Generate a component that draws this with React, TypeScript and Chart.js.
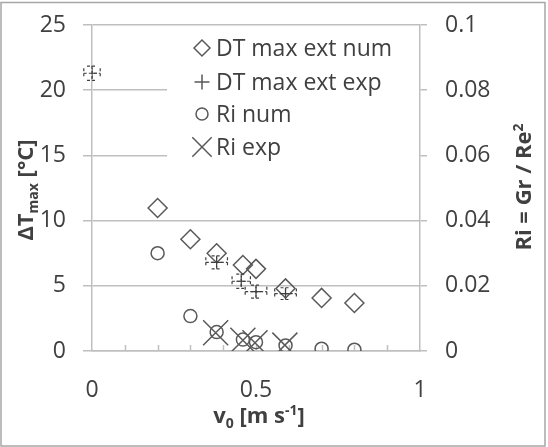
import React, { useEffect, useRef } from 'react';
import { Chart, registerables } from 'chart.js';

Chart.register(...registerables);

// ---- data ----
const vNum = [0.2, 0.3, 0.38, 0.46, 0.5, 0.59, 0.7, 0.8];
const dtNum = [10.97, 8.57, 7.5, 6.6, 6.3, 4.8, 4.07, 3.68];
const riNum = [0.03, 0.0107, 0.0058, 0.0035, 0.0027, 0.0017, 0.0007, 0.0004];

const vExp = [0.0, 0.38, 0.455, 0.5, 0.59];
const dtExp = [21.3, 6.8, 5.35, 4.55, 4.4];
const vErrExp = [0.025, 0.033, 0.028, 0.033, 0.033];
const dtErrExp = [0.55, 0.5, 0.55, 0.5, 0.45];

const vRiExp = [0.377, 0.46, 0.497, 0.588];
const riExp = [0.0056, 0.0033, 0.0025, 0.0018];

const legendLabels = ['DT max ext num', 'DT max ext exp', 'Ri num', 'Ri exp'];
const xMinorTicks = [0.1, 0.2, 0.3, 0.4, 0.5, 0.6, 0.7, 0.8, 0.9];

const FONT = 'Open Sans';
const TEXT = '#404040';
const GRID = '#bfbfbf';
const MARK = '#595959';

const fmt = (v: any) => String(Number(Number(v).toFixed(4)));

type Seg = { t: string; m?: 'sub' | 'sup' };

function drawRich(ctx: CanvasRenderingContext2D, segs: Seg[], cx: number, cy: number, rot: number, size: number) {
  ctx.save();
  ctx.translate(cx, cy);
  ctx.rotate(rot);
  ctx.fillStyle = TEXT;
  const fontFor = (m?: string) => `bold ${m ? Math.round(size * 0.62) : size}px "${FONT}"`;
  let total = 0;
  const widths = segs.map((s) => {
    ctx.font = fontFor(s.m);
    const w = ctx.measureText(s.t).width;
    total += w;
    return w;
  });
  let x = -total / 2;
  ctx.textBaseline = 'alphabetic';
  ctx.textAlign = 'left';
  const baseY = size * 0.36;
  segs.forEach((s, i) => {
    ctx.font = fontFor(s.m);
    const dy = s.m === 'sub' ? size * 0.22 : s.m === 'sup' ? -size * 0.38 : 0;
    ctx.fillText(s.t, x, baseY + dy);
    x += widths[i];
  });
  ctx.restore();
}

function drawMarker(ctx: CanvasRenderingContext2D, kind: string, x: number, y: number, r: number) {
  ctx.beginPath();
  if (kind === 'diamond') {
    ctx.moveTo(x - r, y);
    ctx.lineTo(x, y - r);
    ctx.lineTo(x + r, y);
    ctx.lineTo(x, y + r);
    ctx.closePath();
  } else if (kind === 'plus') {
    ctx.moveTo(x - r, y);
    ctx.lineTo(x + r, y);
    ctx.moveTo(x, y - r);
    ctx.lineTo(x, y + r);
  } else if (kind === 'circle') {
    ctx.arc(x, y, r, 0, Math.PI * 2);
  } else {
    const o = r * Math.SQRT1_2;
    ctx.moveTo(x - o, y - o);
    ctx.lineTo(x + o, y + o);
    ctx.moveTo(x + o, y - o);
    ctx.lineTo(x - o, y + o);
  }
  ctx.stroke();
}

const decorPlugin = {
  id: 'decor',
  beforeDatasetsDraw(chart: any) {
    const ctx: CanvasRenderingContext2D = chart.ctx;
    const x = chart.scales.x;
    const a = chart.chartArea;
    ctx.save();
    ctx.strokeStyle = GRID;
    ctx.lineWidth = 1.5;
    xMinorTicks.forEach((v) => {
      const px = Math.round(x.getPixelForValue(v)) + 0.5;
      ctx.beginPath();
      ctx.moveTo(px, a.bottom);
      ctx.lineTo(px, a.bottom - 6);
      ctx.stroke();
    });
    // legend box
    ctx.fillStyle = '#ffffff';
    ctx.fillRect(167, 30, a.right - 168, 142);
    const kinds = ['diamond', 'plus', 'circle', 'cross'];
    const radii = [8, 7.5, 6, 13.7];
    const ys = [48, 82, 114, 147];
    ctx.strokeStyle = MARK;
    ctx.lineWidth = 1.5;
    kinds.forEach((k, i) => drawMarker(ctx, k, 202, ys[i], radii[i]));
    ctx.fillStyle = TEXT;
    ctx.font = `23px "${FONT}"`;
    ctx.textBaseline = 'middle';
    ctx.textAlign = 'left';
    legendLabels.forEach((t, i) => ctx.fillText(t, 216, ys[i] + 1));
    ctx.restore();
  },
  afterDatasetsDraw(chart: any) {
    const ctx: CanvasRenderingContext2D = chart.ctx;
    const x = chart.scales.x;
    const y = chart.scales.y;
    ctx.save();
    ctx.strokeStyle = '#404040';
    ctx.lineWidth = 1.2;
    ctx.setLineDash([3, 2]);
    const cap = 5;
    vExp.forEach((v, i) => {
      const px = x.getPixelForValue(v);
      const py = y.getPixelForValue(dtExp[i]);
      const x0 = x.getPixelForValue(v - vErrExp[i]);
      const x1 = x.getPixelForValue(v + vErrExp[i]);
      const y0 = y.getPixelForValue(dtExp[i] + dtErrExp[i]);
      const y1 = y.getPixelForValue(dtExp[i] - dtErrExp[i]);
      ctx.beginPath();
      ctx.moveTo(x0, py);
      ctx.lineTo(x1, py);
      ctx.moveTo(x0, py - cap);
      ctx.lineTo(x0, py + cap);
      ctx.moveTo(x1, py - cap);
      ctx.lineTo(x1, py + cap);
      ctx.moveTo(px, y0);
      ctx.lineTo(px, y1);
      ctx.moveTo(px - cap, y0);
      ctx.lineTo(px + cap, y0);
      ctx.moveTo(px - cap, y1);
      ctx.lineTo(px + cap, y1);
      ctx.stroke();
    });
    ctx.restore();
  },
  afterDraw(chart: any) {
    const ctx: CanvasRenderingContext2D = chart.ctx;
    drawRich(ctx, [{ t: '\u0394T' }, { t: 'max', m: 'sub' }, { t: ' [\u00B0C]' }], 25, 190, -Math.PI / 2, 22);
    drawRich(ctx, [{ t: 'Ri = Gr / Re' }, { t: '2', m: 'sup' }], 523, 187, -Math.PI / 2, 22);
    drawRich(ctx, [{ t: 'v' }, { t: '0', m: 'sub' }, { t: ' [m s' }, { t: '-1', m: 'sup' }, { t: ']' }], 259, 415, 0, 22);
    ctx.save();
    ctx.strokeStyle = '#a6a6a6';
    ctx.lineWidth = 1.5;
    ctx.strokeRect(1, 2.5, 544, 443.5);
    ctx.restore();
  },
};

export default function App() {
  const ref = useRef<HTMLCanvasElement>(null);
  useEffect(() => {
    if (!ref.current) return;
    const font = { family: FONT, size: 23 };
    const chart = new Chart(ref.current, {
      type: 'scatter',
      data: {
        datasets: [
          {
            label: legendLabels[0],
            data: vNum.map((v, i) => ({ x: v, y: dtNum[i] })),
            yAxisID: 'y',
            pointStyle: 'rectRot',
            pointRadius: 9.5,
            pointBorderWidth: 1.5,
            pointBorderColor: MARK,
            pointBackgroundColor: 'rgba(0,0,0,0)',
          },
          {
            label: legendLabels[1],
            data: vExp.map((v, i) => ({ x: v, y: dtExp[i] })),
            yAxisID: 'y',
            pointStyle: 'cross',
            pointRadius: 5,
            pointBorderWidth: 1.2,
            pointBorderColor: '#404040',
            pointBackgroundColor: 'rgba(0,0,0,0)',
          },
          {
            label: legendLabels[2],
            data: vNum.map((v, i) => ({ x: v, y: riNum[i] })),
            yAxisID: 'y2',
            pointStyle: 'circle',
            pointRadius: 6.5,
            pointBorderWidth: 1.5,
            pointBorderColor: MARK,
            pointBackgroundColor: 'rgba(0,0,0,0)',
          },
          {
            label: legendLabels[3],
            data: vRiExp.map((v, i) => ({ x: v, y: riExp[i] })),
            yAxisID: 'y2',
            pointStyle: 'crossRot',
            pointRadius: 17.7,
            pointBorderWidth: 1.5,
            pointBorderColor: MARK,
            pointBackgroundColor: 'rgba(0,0,0,0)',
          },
        ],
      },
      options: {
        responsive: false,
        animation: false,
        devicePixelRatio: 1,
        layout: { padding: { top: 25, left: 0, right: 0, bottom: 0 } },
        plugins: { legend: { display: false }, tooltip: { enabled: false } },
        scales: {
          x: {
            type: 'linear',
            position: 'bottom',
            min: 0,
            max: 1,
            ticks: { stepSize: 0.5, font, color: TEXT, padding: 18, maxRotation: 0, autoSkip: false, callback: fmt },
            grid: { display: false },
            border: { display: true, color: GRID, width: 1.5 },
            afterFit: (s: any) => {
              s.height = 96;
              s.paddingLeft = 0;
              s.paddingRight = 0;
            },
          },
          y: {
            type: 'linear',
            position: 'left',
            min: 0,
            max: 25,
            ticks: { stepSize: 5, font, color: TEXT, padding: 17, callback: fmt },
            grid: { color: GRID, lineWidth: 1.5, tickLength: 9 },
            border: { display: true, color: GRID, width: 1.5 },
            afterFit: (s: any) => {
              s.width = 92;
              s.paddingTop = 0;
              s.paddingBottom = 0;
            },
          },
          y2: {
            type: 'linear',
            position: 'right',
            min: 0,
            max: 0.1,
            ticks: { stepSize: 0.02, font, color: TEXT, padding: 18, callback: fmt },
            grid: { drawOnChartArea: false, color: GRID, lineWidth: 1.5, tickLength: 7 },
            border: { display: true, color: GRID, width: 1.5 },
            afterFit: (s: any) => {
              s.width = 128;
              s.paddingTop = 0;
              s.paddingBottom = 0;
            },
          },
        },
      },
      plugins: [decorPlugin],
    } as any);
    return () => chart.destroy();
  }, []);
  return (
    <div style={{ position: 'fixed', left: 0, top: 0, width: 548, height: 447, background: '#fff' }}>
      <canvas ref={ref} width={548} height={447} style={{ display: 'block' }} />
    </div>
  );
}
